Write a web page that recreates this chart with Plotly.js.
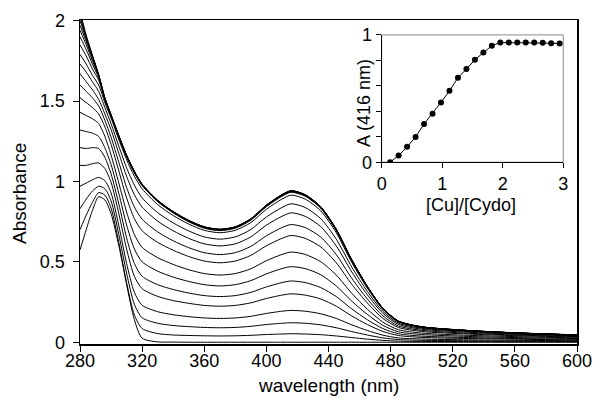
<!DOCTYPE html>
<html>
<head>
<meta charset="utf-8">
<script src="https://cdn.plot.ly/plotly-3.0.1.min.js"></script>
<style>html,body{margin:0;padding:0;background:#fff;}#chart{width:595px;height:400px;}</style>
</head>
<body>
<div id="chart"></div>
<script>
// wavelength grid (nm)
const wavelength = [280, 284, 288, 292, 296, 300, 305, 310, 315, 320, 330, 340, 350, 360, 370, 380, 390, 400, 410, 416, 425, 435, 445, 455, 465, 475, 485, 500, 530, 560, 600];

// absorbance spectra during the titration
const spec00 = [0.574, 0.70, 0.82, 0.905, 0.885, 0.80, 0.60, 0.36, 0.14, 0.025, 0.002, 0.001, 0, 0, 0, 0, 0, 0, 0, 0, 0, 0, 0, 0, 0, 0, 0, 0, 0, 0, 0];
const spec01 = [0.70, 0.79, 0.87, 0.93, 0.915, 0.834, 0.62, 0.37, 0.17, 0.085, 0.054, 0.045, 0.042, 0.040, 0.039, 0.040, 0.043, 0.048, 0.051, 0.053, 0.051, 0.047, 0.039, 0.029, 0.019, 0.012, 0.007, 0.005, 0.004, 0.003, 0.003];
const spec02 = [0.83, 0.89, 0.94, 0.97, 0.955, 0.879, 0.67, 0.43, 0.235, 0.152, 0.118, 0.104, 0.097, 0.092, 0.090, 0.092, 0.099, 0.110, 0.118, 0.121, 0.118, 0.108, 0.090, 0.066, 0.045, 0.027, 0.017, 0.012, 0.009, 0.007, 0.006];
const spec03 = [0.97, 0.99, 1.01, 1.025, 1.005, 0.929, 0.725, 0.49, 0.31, 0.23, 0.19, 0.171, 0.159, 0.151, 0.148, 0.151, 0.161, 0.179, 0.193, 0.198, 0.193, 0.177, 0.148, 0.108, 0.073, 0.044, 0.027, 0.020, 0.015, 0.012, 0.009];
const spec04 = [1.10, 1.10, 1.11, 1.115, 1.08, 0.995, 0.80, 0.58, 0.41, 0.333, 0.285, 0.259, 0.242, 0.229, 0.224, 0.229, 0.245, 0.272, 0.293, 0.301, 0.293, 0.269, 0.224, 0.163, 0.110, 0.067, 0.042, 0.030, 0.023, 0.019, 0.014];
const spec05 = [1.21, 1.205, 1.21, 1.205, 1.15, 1.047, 0.86, 0.65, 0.49, 0.41, 0.358, 0.328, 0.306, 0.290, 0.284, 0.290, 0.310, 0.344, 0.371, 0.381, 0.371, 0.340, 0.284, 0.207, 0.140, 0.085, 0.053, 0.038, 0.029, 0.023, 0.018];
const spec06 = [1.32, 1.31, 1.30, 1.28, 1.21, 1.105, 0.925, 0.73, 0.58, 0.50, 0.442, 0.405, 0.378, 0.358, 0.35, 0.358, 0.383, 0.425, 0.458, 0.47, 0.458, 0.42, 0.35, 0.255, 0.173, 0.105, 0.065, 0.048, 0.036, 0.029, 0.023];
const spec07 = [1.43, 1.41, 1.39, 1.36, 1.28, 1.164, 0.99, 0.81, 0.67, 0.59, 0.526, 0.484, 0.451, 0.427, 0.418, 0.427, 0.457, 0.507, 0.546, 0.561, 0.546, 0.501, 0.418, 0.304, 0.206, 0.125, 0.078, 0.057, 0.043, 0.035, 0.027];
const spec08 = [1.52, 1.49, 1.46, 1.42, 1.34, 1.231, 1.065, 0.898, 0.769, 0.693, 0.621, 0.572, 0.533, 0.505, 0.494, 0.505, 0.54, 0.60, 0.646, 0.664, 0.646, 0.593, 0.494, 0.36, 0.244, 0.148, 0.092, 0.067, 0.051, 0.041, 0.032];
const spec09 = [1.60, 1.56, 1.52, 1.47, 1.38, 1.275, 1.119, 0.963, 0.841, 0.765, 0.686, 0.631, 0.588, 0.557, 0.545, 0.557, 0.596, 0.662, 0.713, 0.732, 0.713, 0.654, 0.545, 0.397, 0.269, 0.164, 0.101, 0.074, 0.056, 0.045, 0.035];
const spec10 = [1.67, 1.62, 1.57, 1.51, 1.42, 1.322, 1.175, 1.032, 0.917, 0.84, 0.753, 0.693, 0.646, 0.612, 0.599, 0.612, 0.655, 0.728, 0.783, 0.805, 0.783, 0.719, 0.599, 0.437, 0.295, 0.18, 0.111, 0.081, 0.062, 0.05, 0.039];
const spec11 = [1.73, 1.68, 1.62, 1.56, 1.46, 1.359, 1.219, 1.085, 0.977, 0.898, 0.806, 0.742, 0.692, 0.655, 0.641, 0.655, 0.701, 0.779, 0.838, 0.861, 0.838, 0.769, 0.641, 0.467, 0.316, 0.192, 0.119, 0.087, 0.066, 0.053, 0.041];
const spec12 = [1.79, 1.73, 1.66, 1.60, 1.49, 1.394, 1.26, 1.136, 1.033, 0.954, 0.856, 0.788, 0.735, 0.696, 0.681, 0.696, 0.744, 0.827, 0.89, 0.915, 0.89, 0.817, 0.681, 0.496, 0.336, 0.204, 0.126, 0.092, 0.07, 0.056, 0.044];
const spec13 = [1.85, 1.78, 1.70, 1.63, 1.51, 1.41, 1.28, 1.16, 1.06, 0.98, 0.88, 0.81, 0.755, 0.715, 0.70, 0.715, 0.765, 0.85, 0.915, 0.94, 0.915, 0.84, 0.70, 0.51, 0.345, 0.21, 0.13, 0.095, 0.072, 0.058, 0.045];
const spec14 = [1.90, 1.82, 1.73, 1.645, 1.515, 1.413, 1.283, 1.162, 1.062, 0.982, 0.882, 0.812, 0.757, 0.717, 0.702, 0.717, 0.767, 0.852, 0.917, 0.942, 0.917, 0.842, 0.702, 0.512, 0.346, 0.211, 0.131, 0.096, 0.073, 0.058, 0.045];
const spec15 = [1.94, 1.85, 1.75, 1.655, 1.52, 1.415, 1.285, 1.164, 1.063, 0.983, 0.883, 0.813, 0.758, 0.718, 0.703, 0.718, 0.768, 0.853, 0.918, 0.943, 0.918, 0.843, 0.703, 0.513, 0.347, 0.212, 0.132, 0.096, 0.073, 0.059, 0.046];
const spec16 = [1.97, 1.87, 1.765, 1.66, 1.52, 1.414, 1.284, 1.163, 1.062, 0.982, 0.882, 0.812, 0.757, 0.717, 0.702, 0.717, 0.767, 0.852, 0.917, 0.942, 0.917, 0.842, 0.702, 0.512, 0.347, 0.212, 0.131, 0.096, 0.073, 0.058, 0.045];
const spec17 = [2.00, 1.885, 1.775, 1.665, 1.52, 1.412, 1.282, 1.161, 1.061, 0.981, 0.881, 0.811, 0.756, 0.716, 0.701, 0.716, 0.766, 0.851, 0.916, 0.941, 0.916, 0.841, 0.701, 0.511, 0.346, 0.211, 0.131, 0.095, 0.072, 0.058, 0.045];
const spec18 = [2.02, 1.895, 1.78, 1.665, 1.515, 1.41, 1.28, 1.159, 1.059, 0.979, 0.879, 0.809, 0.754, 0.714, 0.699, 0.714, 0.764, 0.849, 0.914, 0.939, 0.914, 0.839, 0.699, 0.51, 0.345, 0.21, 0.13, 0.095, 0.072, 0.058, 0.045];
const spec19 = [2.04, 1.90, 1.78, 1.66, 1.51, 1.407, 1.277, 1.156, 1.056, 0.977, 0.877, 0.807, 0.752, 0.712, 0.697, 0.712, 0.762, 0.846, 0.911, 0.936, 0.911, 0.836, 0.697, 0.508, 0.344, 0.21, 0.13, 0.095, 0.072, 0.058, 0.045];
const spec20 = [2.06, 1.91, 1.785, 1.66, 1.51, 1.404, 1.274, 1.153, 1.053, 0.974, 0.874, 0.804, 0.749, 0.709, 0.694, 0.709, 0.759, 0.843, 0.908, 0.933, 0.908, 0.833, 0.694, 0.506, 0.343, 0.209, 0.129, 0.094, 0.071, 0.057, 0.045];

// inset: titration curve
const ratioCuCydo = [0.14, 0.28, 0.42, 0.56, 0.70, 0.84, 0.98, 1.12, 1.26, 1.40, 1.54, 1.68, 1.82, 1.96, 2.10, 2.24, 2.38, 2.52, 2.66, 2.80, 2.94];
const abs416 = [0.0, 0.053, 0.121, 0.198, 0.301, 0.381, 0.47, 0.561, 0.664, 0.732, 0.805, 0.861, 0.915, 0.94, 0.94, 0.94, 0.94, 0.94, 0.938, 0.935, 0.932];

// tick labels
const mainXTicks = [280, 320, 360, 400, 440, 480, 520, 560, 600];
const mainYTicks = [0, 0.5, 1, 1.5, 2];
const mainYText = ['0', '0.5', '1', '1.5', '2'];
const insetXTicks = [0, 1, 2, 3];
const insetYTicks = [0, 0.2, 0.4, 0.6, 0.8, 1];
const insetYText = ['0', '', '', '', '', '1'];

const spectra = [spec00, spec01, spec02, spec03, spec04, spec05, spec06, spec07, spec08, spec09, spec10,
                 spec11, spec12, spec13, spec14, spec15, spec16, spec17, spec18, spec19, spec20];

const FONT = 'Liberation Sans, Arial, Helvetica, sans-serif';
const traces = spectra.map(s => ({
  x: wavelength, y: s, type: 'scatter', mode: 'lines',
  line: {color: '#000', width: 1, shape: 'spline', smoothing: 0.7},
  xaxis: 'x', yaxis: 'y', hoverinfo: 'skip', showlegend: false
}));
traces.push({
  x: ratioCuCydo, y: abs416, type: 'scatter', mode: 'lines+markers',
  line: {color: '#000', width: 1},
  marker: {color: '#000', size: 6},
  xaxis: 'x2', yaxis: 'y2', showlegend: false
});

const layout = {
  width: 595, height: 400,
  margin: {l: 80, r: 18, t: 20, b: 56},
  paper_bgcolor: '#fff', plot_bgcolor: 'rgba(0,0,0,0)',
  font: {family: FONT, size: 18, color: '#000'},
  showlegend: false,
  xaxis: {
    domain: [0, 1], range: [280, 600], tickvals: mainXTicks,
    ticks: 'outside', ticklen: 6, tickwidth: 1, tickcolor: '#000', ticklabelstandoff: -6,
    showline: true, linecolor: '#000', linewidth: 1.5, mirror: true,
    showgrid: false, zeroline: false, tickfont: {size: 18, family: FONT}
  },
  yaxis: {
    domain: [0, 1], range: [-0.011, 2.004], tickvals: mainYTicks, ticktext: mainYText,
    ticks: 'outside', ticklen: 6, tickwidth: 1, tickcolor: '#000', ticklabelstandoff: 4,
    showline: true, linecolor: '#000', linewidth: 1.5, mirror: true,
    showgrid: false, zeroline: false, tickfont: {size: 18, family: FONT}
  },
  xaxis2: {
    domain: [0.607, 0.9724], anchor: 'y2', range: [0, 3], tickvals: insetXTicks,
    ticks: 'outside', ticklen: 5, tickwidth: 1, tickcolor: '#000',
    showline: true, linecolor: '#000', linewidth: 1,
    showgrid: false, zeroline: false, tickfont: {size: 18, family: FONT}
  },
  yaxis2: {
    domain: [0.561, 0.954], anchor: 'x2', range: [0, 1], tickvals: insetYTicks, ticktext: insetYText,
    ticks: 'outside', ticklen: 5, tickwidth: 1, tickcolor: '#000',
    showline: true, linecolor: '#000', linewidth: 1,
    showgrid: false, zeroline: false, tickfont: {size: 18, family: FONT}
  },
  shapes: [
    {type: 'rect', xref: 'x2 domain', yref: 'y2 domain', x0: 0, x1: 1, y0: 0, y1: 1,
     line: {color: '#8a8a8a', width: 1}, layer: 'below'}
  ],
  annotations: [
    {text: 'Absorbance', xref: 'paper', yref: 'paper', x: -0.1207, y: 0.463, textangle: -90,
     showarrow: false, xanchor: 'center', yanchor: 'middle', font: {size: 19, family: FONT}},
    {text: 'wavelength (nm)', xref: 'paper', yref: 'paper', x: 0.5, y: -0.1295,
     showarrow: false, xanchor: 'center', yanchor: 'middle', font: {size: 19, family: FONT}},
    {text: 'A (416 nm)', xref: 'paper', yref: 'paper', x: 0.5714, y: 0.744, textangle: -90,
     showarrow: false, xanchor: 'center', yanchor: 'middle', font: {size: 18, family: FONT}},
    {text: '[Cu]/[Cydo]', xref: 'paper', yref: 'paper', x: 0.7867, y: 0.429,
     showarrow: false, xanchor: 'center', yanchor: 'middle', font: {size: 18, family: FONT}}
  ]
};

Plotly.newPlot('chart', traces, layout, {staticPlot: true, displayModeBar: false});
</script>
</body>
</html>
